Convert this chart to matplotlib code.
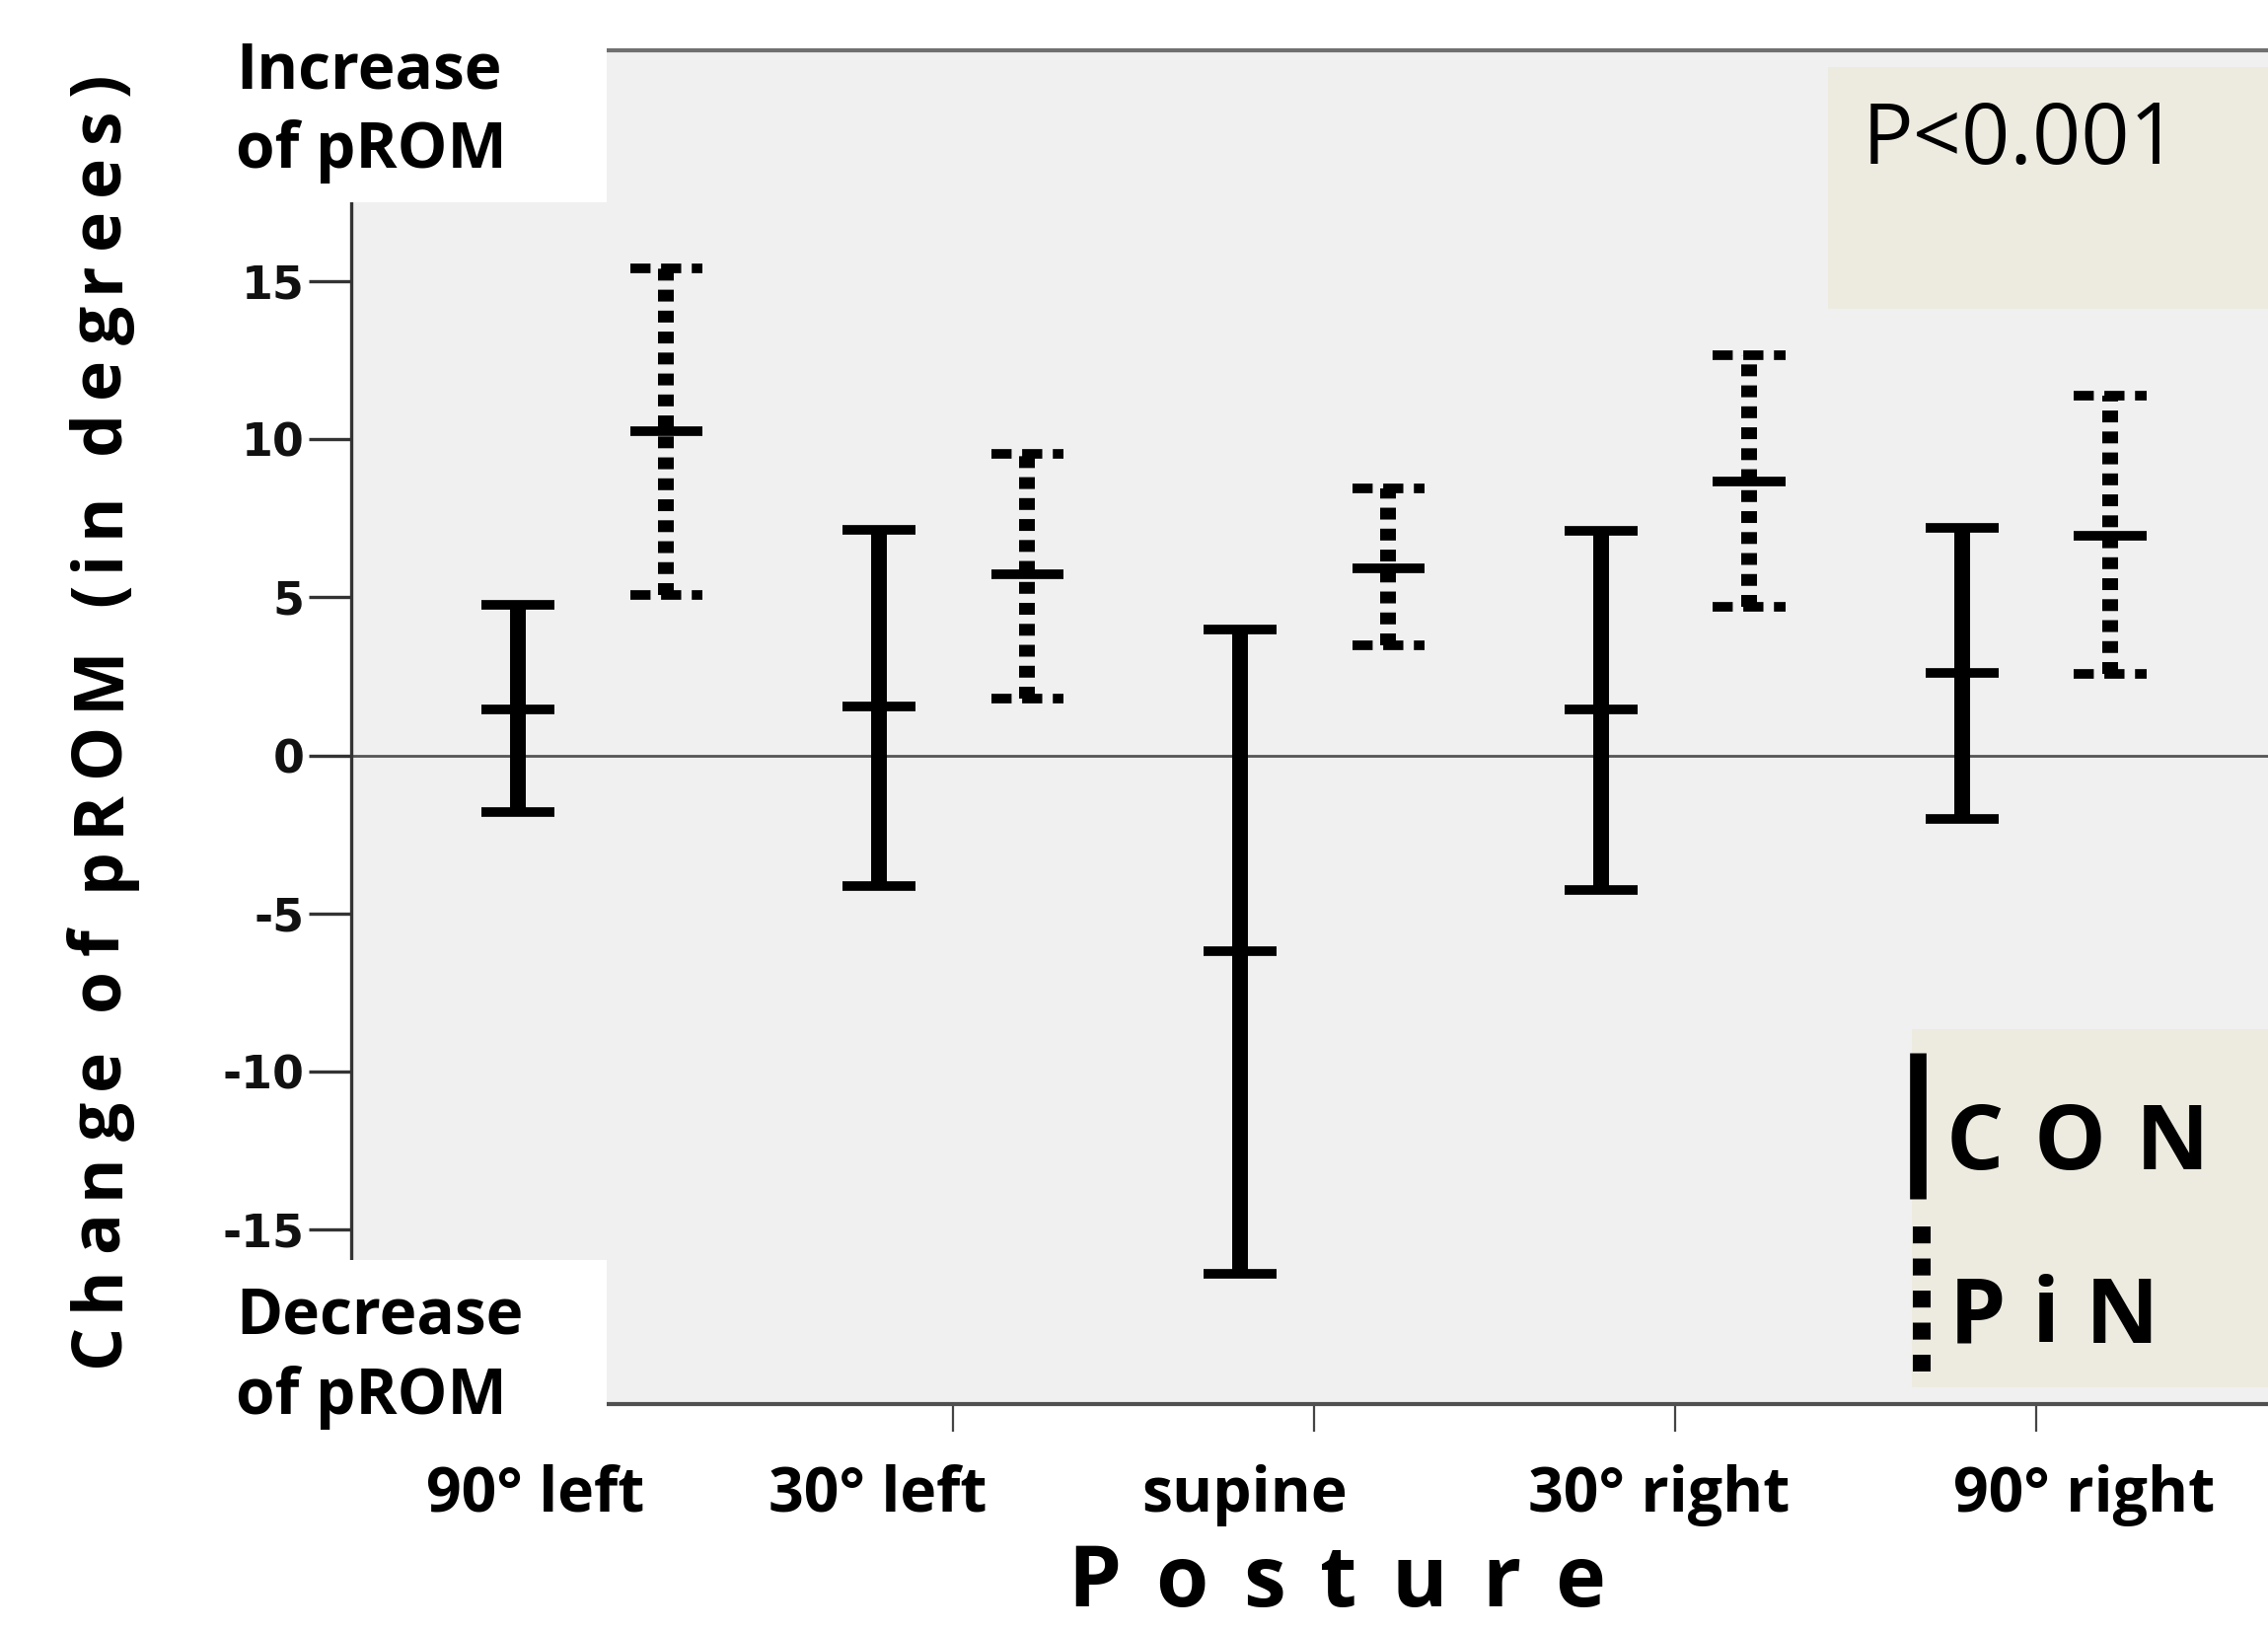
import numpy as np
import matplotlib
matplotlib.use("Agg")
import matplotlib.pyplot as plt
import matplotlib.transforms as mtransforms
from matplotlib.patches import Rectangle
from matplotlib.lines import Line2D

plt.rcParams['axes.unicode_minus'] = False

postures = ['90° left', '30° left', 'supine', '30° right', '90° right']

# mean and 95% CI of change in pROM (degrees)
con_mean = [1.45, 1.55, -6.2, 1.45, 2.6]
con_low = [-1.8, -4.15, -16.4, -4.25, -2.0]
con_high = [4.75, 7.15, 3.98, 7.1, 7.2]

pin_mean = [10.27, 5.72, 5.93, 8.66, 6.95]
pin_low = [5.08, 1.78, 3.48, 4.7, 2.58]
pin_high = [15.42, 9.55, 8.44, 12.65, 11.37]

yticks = [-15, -10, -5, 0, 5, 10, 15]

W, H = 2299, 1653
fig = plt.figure(figsize=(W / 100, H / 100), dpi=100)
fig.patch.set_facecolor('white')
renderer = fig.canvas.get_renderer()

def fx(px):
    return px / W

def fy(py):
    return 1 - py / H

def spaced(s, start, end, other, vertical=False, word_mult=3, **kw):
    # letter-spaced text stretched between start and end pixels
    chars = [c for c in s]
    widths = []
    for c in chars:
        if c == ' ':
            widths.append(0)
            continue
        t = fig.text(0, 0, c, **kw)
        widths.append(t.get_window_extent(renderer).width)
        t.remove()
    n_gaps = 0
    for a, b in zip(chars[:-1], chars[1:]):
        if a == ' ':
            continue
        n_gaps += word_mult if b == ' ' else 1
    g = (abs(end - start) - sum(widths)) / n_gaps
    pos = start
    for i, c in enumerate(chars):
        if c == ' ':
            continue
        if vertical:
            fig.text(fx(other), fy(pos), c, rotation=90, rotation_mode='anchor',
                     ha='left', va='baseline', zorder=6, **kw)
            pos -= widths[i]
        else:
            fig.text(fx(pos), fy(other), c, ha='left', va='baseline', zorder=6, **kw)
            pos += widths[i]
        if i + 1 < len(chars):
            step = g * (word_mult if chars[i + 1] == ' ' else 1)
            pos = pos - step if vertical else pos + step

ax = fig.add_axes([fx(356), fy(1423), fx(2299) - fx(356), fy(51) - fy(1423)])
ax.set_facecolor('#f0f0f0')
ax.set_xlim(-0.667, 4.642)
ax.set_ylim(-20.53, 22.31)

ax.spines['right'].set_visible(False)
ax.spines['left'].set_color('#333333')
ax.spines['left'].set_linewidth(2.4)
ax.spines['top'].set_color('#707070')
ax.spines['top'].set_linewidth(3)
ax.spines['bottom'].set_color('#505050')
ax.spines['bottom'].set_linewidth(3)

ax.set_yticks(yticks)
ax.set_yticklabels([str(t) for t in yticks], fontfamily='DejaVu Sans',
                   fontweight='bold', fontsize=33, color='#111111')
ax.tick_params(axis='y', direction='out', length=31, width=2.4,
               color='#333333', pad=3)
ax.set_xticks(range(len(postures)))
ax.set_xticklabels([''] * len(postures))
ax.tick_params(axis='x', direction='out', length=20, width=1.6, color='#444444')

ax.axhline(0, color='#555555', lw=2, zorder=1)

x = np.arange(len(postures))
off = 0.205
capw = 0.1

# CON: solid bars
xc = x - off
ax.vlines(xc, con_low, con_high, color='black', lw=11.5, capstyle='butt', zorder=3)
ax.hlines(con_low, xc - capw, xc + capw, color='black', lw=7, zorder=3)
ax.hlines(con_high, xc - capw, xc + capw, color='black', lw=7, zorder=3)
ax.hlines(con_mean, xc - capw, xc + capw, color='black', lw=7, zorder=3)

# PiN: dotted bars
xp = x + off
ax.vlines(xp, pin_low, pin_high, color='black', lw=11.5,
          linestyles=[(0, (0.75, 0.58))], zorder=3)
ax.hlines(pin_low, xp - capw, xp + capw, color='black', lw=7,
          linestyles=[(0, (2.1, 1.1))], zorder=3)
ax.hlines(pin_high, xp - capw, xp + capw, color='black', lw=7,
          linestyles=[(0, (2.1, 1.1))], zorder=3)
ax.hlines(pin_mean, xp - capw, xp + capw, color='black', lw=7, zorder=3)

# white cover boxes in the corners
fig.add_artist(Rectangle((0, fy(205)), fx(615), 1 - fy(205), transform=fig.transFigure,
                         facecolor='white', edgecolor='none', zorder=5))
fig.add_artist(Rectangle((0, 0), fx(615), fy(1277), transform=fig.transFigure,
                         facecolor='white', edgecolor='none', zorder=5))

# x category labels (offset from cluster centres as in the original)
label_shift = [-0.156, -0.208, -0.194, -0.044, 0.134]
trans = mtransforms.blended_transform_factory(ax.transData, fig.transFigure)
for i, lab in enumerate(postures):
    fig.text(i + label_shift[i], fy(1532), lab, transform=trans, ha='center',
             va='baseline', fontsize=45, fontweight='bold', fontfamily='Open Sans',
             zorder=6)

bold = dict(fontsize=46, fontweight='bold', fontfamily='Open Sans',
            va='baseline', ha='left', zorder=6)
fig.text(fx(239), fy(90), 'Increase', **bold)
fig.text(fx(239), fy(170), 'of pROM', **bold)
fig.text(fx(239), fy(1352), 'Decrease', **bold)
fig.text(fx(239), fy(1433), 'of pROM', **bold)

# axis titles (letter-spaced)
spaced('Change of pROM (in degrees)', 1385, 73, 120, vertical=True,
       fontsize=50, fontweight='bold', fontfamily='Open Sans')
spaced('Posture', 1082, 1627, 1628, fontsize=62, fontweight='bold',
       fontfamily='Open Sans')

# p-value box
fig.add_artist(Rectangle((fx(1853), fy(313)), fx(2299) - fx(1853), fy(68) - fy(313),
                         transform=fig.transFigure, facecolor='#edebe0',
                         edgecolor='none', zorder=1))
fig.text(fx(1888), fy(166), 'P<0.001', fontsize=62, fontfamily='Open Sans',
         va='baseline', ha='left', zorder=6)

# legend box
fig.add_artist(Rectangle((fx(1938), fy(1406)), fx(2299) - fx(1938), fy(1043) - fy(1406),
                         transform=fig.transFigure, facecolor='#edebe0',
                         edgecolor='none', zorder=1))
fig.add_artist(Line2D([fx(1944), fx(1944)], [fy(1215), fy(1067)], transform=fig.transFigure,
                      color='black', lw=12, solid_capstyle='butt', zorder=6))
fig.add_artist(Line2D([fx(1948), fx(1948)], [fy(1243), fy(1390)], transform=fig.transFigure,
                      color='black', lw=13, linestyle=(0, (0.95, 0.85)), zorder=6))
spaced('CON', 1973, 2239, 1185, fontsize=66, fontweight='bold', fontfamily='Open Sans')
spaced('PiN', 1976, 2188, 1361, fontsize=66, fontweight='bold', fontfamily='Open Sans')

fig.savefig('out.png', dpi=100)
